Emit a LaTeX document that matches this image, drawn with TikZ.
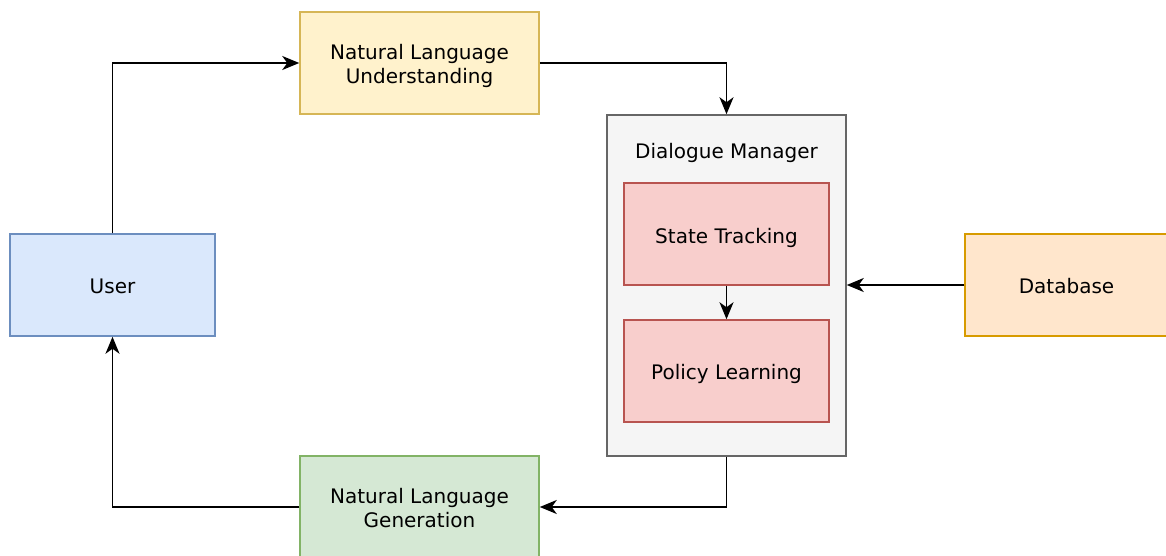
\documentclass[tikz,border=0pt]{standalone}
\usepackage{fontspec}
\setmainfont{DejaVu Sans}
\usetikzlibrary{arrows.meta,calc}
\definecolor{usrfill}{HTML}{DAE8FC}\definecolor{usrline}{HTML}{6C8EBF}
\definecolor{nlufill}{HTML}{FFF2CC}\definecolor{nluline}{HTML}{D6B656}
\definecolor{nlgfill}{HTML}{D5E8D4}\definecolor{nlgline}{HTML}{82B366}
\definecolor{dmfill}{HTML}{F5F5F5}\definecolor{dmline}{HTML}{666666}
\definecolor{subfill}{HTML}{F8CECC}\definecolor{subline}{HTML}{B85450}
\definecolor{dbfill}{HTML}{FFE6CC}\definecolor{dbline}{HTML}{D79B00}
\tikzset{
  box/.style={draw, line width=1.5pt, minimum width=#1, minimum height=102pt, inner sep=0pt},
  box/.default=205pt,
  txt/.style={inner sep=0pt, align=center, text depth=0pt, anchor=south,
    font=\fontsize{20}{24}\selectfont},
  flow/.style={line width=1.8pt, -{Stealth[length=17pt, width=14pt, inset=5pt]}},
}
\begin{document}
\begin{tikzpicture}[x=1pt, y=-1pt]
\useasboundingbox (0,0) rectangle (1166,556);
\clip (0,0) rectangle (1166,556);
% outer container of the dialogue manager
\node[box=239pt, fill=dmfill, draw=dmline, minimum height=341pt] (dm) at (726.5,285.5) {};
\node[txt] (dmtext) at (726.5,158.5) {Dialogue Manager};
\node[box, fill=subfill, draw=subline] (st) at (726.5,234) {};
\node[txt] (sttext) at ($(st.center)+(0,9.5)$) {State Tracking};
\node[box, fill=subfill, draw=subline] (pl) at (726.5,371) {};
\node[txt] (pltext) at ($(pl.center)+(0,9)$) {Policy Learning};
% surrounding modules
\node[box=239pt, fill=nlufill, draw=nluline] (nlu) at (419.5,63) {};
\node[txt] (nlutext) at ($(nlu.center)+(0,21)$) {Natural Language\\Understanding};
\node[box=239pt, fill=nlgfill, draw=nlgline] (nlg) at (419.5,507) {};
\node[txt] (nlgtext) at ($(nlg.center)+(0,21)$) {Natural Language\\Generation};
\node[box, fill=usrfill, draw=usrline] (user) at (112.5,285) {};
\node[txt] (usertext) at ($(user.center)+(0,9)$) {User};
\node[box=203pt, fill=dbfill, draw=dbline] (db) at (1066.5,285) {};
\node[txt] (dbtext) at ($(db.center)+(0,9)$) {Database};
% information flow
\draw[flow] (user.north) |- (nlu.west);
\draw[flow] (nlu.east) -| (dm.north);
\draw[flow] (st.south) -- (pl.north);
\draw[flow] (db.west) -- (db.west -| dm.east);
\draw[flow] (dm.south) |- (nlg.east);
\draw[flow] (nlg.west) -| (user.south);
\end{tikzpicture}
\end{document}
